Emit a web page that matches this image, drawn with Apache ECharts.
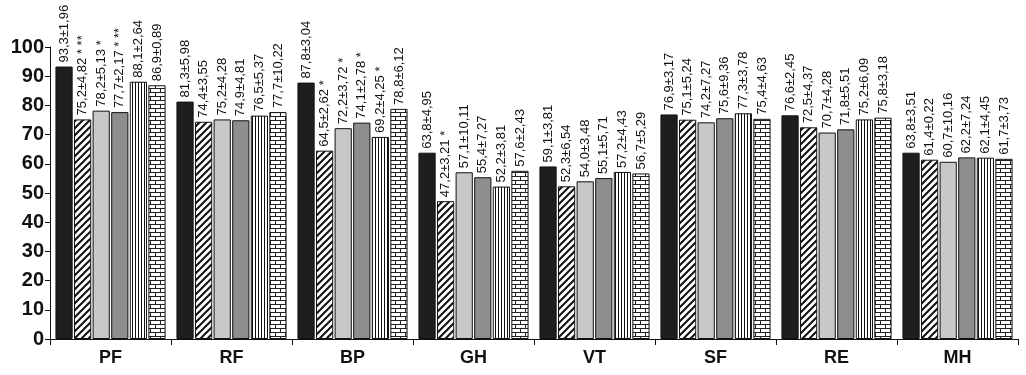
<!DOCTYPE html>
<html>
<head>
<meta charset="utf-8">
<script src="https://cdn.jsdelivr.net/npm/echarts@6/dist/echarts.min.js"></script>
<style>
  html, body { margin: 0; padding: 0; background: #fff; }
  #chart { width: 1026px; height: 375px; }
</style>
</head>
<body>
<div id="chart"></div>
<script>
// categories and data
var categories = ['PF', 'RF', 'BP', 'GH', 'VT', 'SF', 'RE', 'MH'];
var yTicks = [0, 10, 20, 30, 40, 50, 60, 70, 80, 90, 100];

// mean values per group (6 groups)
var g1 = [93.3, 81.3, 87.8, 63.8, 59.1, 76.9, 76.6, 63.8];
var g2 = [75.2, 74.4, 64.5, 47.2, 52.3, 75.1, 72.5, 61.4];
var g3 = [78.2, 75.2, 72.2, 57.1, 54.0, 74.2, 70.7, 60.7];
var g4 = [77.7, 74.9, 74.1, 55.4, 55.1, 75.6, 71.8, 62.2];
var g5 = [88.1, 76.5, 69.2, 52.2, 57.2, 77.3, 75.2, 62.1];
var g6 = [86.9, 77.7, 78.8, 57.6, 56.7, 75.4, 75.8, 61.7];

// standard deviations
var sd1 = [1.96, 5.98, 3.04, 4.95, 3.81, 3.17, 2.45, 3.51];
var sd2 = [4.82, 3.55, 2.62, 3.21, 6.54, 5.24, 4.37, 0.22];
var sd3 = [5.13, 4.28, 3.72, 10.11, 3.48, 7.27, 4.28, 10.16];
var sd4 = [2.17, 4.81, 2.78, 7.27, 5.71, 9.36, 5.51, 7.24];
var sd5 = [2.64, 5.37, 4.25, 3.81, 4.43, 3.78, 6.09, 4.45];
var sd6 = [0.89, 10.22, 6.12, 2.43, 5.29, 4.63, 3.18, 3.73];

// significance marks
var sig1 = ['', '', '', '', '', '', '', ''];
var sig2 = [' * **', '', ' *', ' *', '', '', '', ''];
var sig3 = [' *', '', ' *', '', '', '', '', ''];
var sig4 = [' * **', '', ' *', '', '', '', '', ''];
var sig5 = ['', '', ' *', '', '', '', '', ''];
var sig6 = ['', '', '', '', '', '', '', ''];

function fmt(v) { return v.toFixed(1).replace('.', ','); }
function fmt2(v) { return v.toFixed(2).replace('.', ','); }

// fill patterns
function makePattern(kind) {
  var c = document.createElement('canvas');
  var ctx = c.getContext('2d');
  if (kind === 'hatch') {
    c.width = 7; c.height = 7;
    ctx.fillStyle = '#fff'; ctx.fillRect(0, 0, 7, 7);
    ctx.strokeStyle = '#111'; ctx.lineWidth = 2;
    ctx.beginPath();
    ctx.moveTo(-1, 8); ctx.lineTo(8, -1);
    ctx.moveTo(-5, 5); ctx.lineTo(5, -5);
    ctx.moveTo(2, 12); ctx.lineTo(12, 2);
    ctx.stroke();
  } else if (kind === 'vstripe') {
    c.width = 3; c.height = 3;
    ctx.fillStyle = '#fff'; ctx.fillRect(0, 0, 3, 3);
    ctx.fillStyle = '#111'; ctx.fillRect(0, 0, 1, 3);
  } else if (kind === 'brick') {
    c.width = 10; c.height = 8;
    ctx.fillStyle = '#fff'; ctx.fillRect(0, 0, 10, 8);
    ctx.fillStyle = '#222';
    ctx.fillRect(0, 0, 10, 1);
    ctx.fillRect(0, 4, 10, 1);
    ctx.fillRect(0, 0, 1, 4);
    ctx.fillRect(5, 4, 1, 4);
  }
  return { image: c, repeat: 'repeat' };
}

var fills = [
  '#1e1e1e',
  makePattern('hatch'),
  '#c8c8c8',
  '#8e8e8e',
  makePattern('vstripe'),
  makePattern('brick')
];

var groups = [g1, g2, g3, g4, g5, g6];
var sds = [sd1, sd2, sd3, sd4, sd5, sd6];
var sigs = [sig1, sig2, sig3, sig4, sig5, sig6];

var series = groups.map(function (vals, k) {
  return {
    type: 'bar',
    data: vals,
    barGap: '8%',
    barCategoryGap: '9%',
    itemStyle: { color: fills[k], borderColor: '#111', borderWidth: 1 },
    label: {
      show: true,
      position: 'top',
      rotate: 90,
      align: 'left',
      verticalAlign: 'middle',
      distance: 4,
      color: '#111',
      fontFamily: 'Liberation Sans, Arial, sans-serif',
      fontSize: 13,
      formatter: function (p) {
        var i = p.dataIndex;
        return fmt(vals[i]) + '±' + fmt2(sds[k][i]) + sigs[k][i];
      }
    },
    animation: false
  };
});

var chart = echarts.init(document.getElementById('chart'));
chart.setOption({
  animation: false,
  grid: { left: 50, right: 8, top: 47, bottom: 36 },
  xAxis: {
    type: 'category',
    data: categories,
    axisLine: { lineStyle: { color: '#111', width: 1 } },
    axisTick: { show: true, length: 6, lineStyle: { color: '#111' } },
    axisLabel: {
      color: '#111', fontSize: 18, fontWeight: 'bold',
      fontFamily: 'Liberation Sans, Arial, sans-serif', margin: 10
    }
  },
  yAxis: {
    type: 'value',
    min: yTicks[0],
    max: yTicks[yTicks.length - 1],
    interval: 10,
    splitLine: { show: false },
    axisLine: { show: true, lineStyle: { color: '#111', width: 1 } },
    axisTick: { show: true, length: 5, lineStyle: { color: '#111' } },
    axisLabel: {
      color: '#111', fontSize: 20, fontWeight: 'bold',
      fontFamily: 'Liberation Sans, Arial, sans-serif', margin: 6
    }
  },
  series: series
});
</script>
</body>
</html>
